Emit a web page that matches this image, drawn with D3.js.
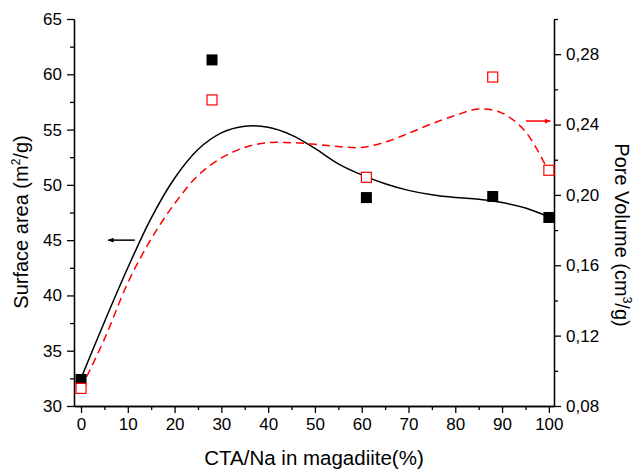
<!DOCTYPE html>
<html>
<head>
<meta charset="utf-8">
<script src="https://cdn.jsdelivr.net/npm/d3@7"></script>
<style>
body { margin: 0; background: #fff; }
svg text { font-family: "Liberation Sans", Arial, sans-serif; }
.axis path, .axis line { stroke: #000; stroke-width: 1.3; }
.axis text { font-size: 17px; fill: #000; }
</style>
</head>
<body>
<svg width="635" height="470"></svg>
<script>
// measured points
var ctaNa = [0, 28, 61, 88, 100];
var surfaceArea = [32.4, 61.3, 48.85, 48.95, 47.05];
var poreVolume = [0.090, 0.254, 0.210, 0.267, 0.214];

// fitted curves
var saFitX = [0, 5, 10, 15, 20, 25, 30, 35, 40, 45, 50, 55, 60, 65, 70, 75, 80, 85, 90, 95, 100];
var saFitY = [32.5, 37.6, 42.5, 47.0, 50.6, 53.2, 54.7, 55.3, 55.2, 54.5, 53.3, 51.9, 50.9, 50.1, 49.5, 49.1, 48.85, 48.7, 48.4, 47.9, 47.1];
var pvFitX = [0, 5, 10, 15, 20, 25, 30, 35, 40, 45, 50, 55, 60, 65, 70, 75, 80, 85, 90, 95, 100];
var pvFitY = [0.090, 0.118, 0.150, 0.175, 0.195, 0.211, 0.221, 0.227, 0.2297, 0.2297, 0.2288, 0.2275, 0.227, 0.230, 0.235, 0.2405, 0.2452, 0.2488, 0.2465, 0.236, 0.213];

var xTicks = [0, 10, 20, 30, 40, 50, 60, 70, 80, 90, 100];
var leftTicks = [30, 35, 40, 45, 50, 55, 60, 65];
var rightTicks = [0.08, 0.12, 0.16, 0.20, 0.24, 0.28];

// arrows pointing to the axis each curve belongs to
var saArrow = [[11.5, 45], [5.8, 45]];
var pvArrow = [[95.1, 0.242], [100.3, 0.242]];

var svg = d3.select("svg");

var x = d3.scaleLinear().domain([-1.5, 101.1]).range([74, 554]);
var yL = d3.scaleLinear().domain([30, 65]).range([406, 19]);
var yR = d3.scaleLinear().domain([0.08, 0.30]).range([406, 19]);

var comma = function(d) { return d3.format(".2f")(d).replace(".", ","); };

// minor ticks
svg.append("g").attr("class", "axis").attr("transform", "translate(0,406)")
  .call(d3.axisBottom(x).tickValues(d3.range(5, 100, 10)).tickSize(4).tickSizeOuter(0).tickFormat(""));
svg.append("g").attr("class", "axis").attr("transform", "translate(74,0)")
  .call(d3.axisLeft(yL).tickValues(d3.range(32.5, 65, 5)).tickSize(4).tickSizeOuter(0).tickFormat(""));
svg.append("g").attr("class", "axis").attr("transform", "translate(554,0)")
  .call(d3.axisRight(yR).tickValues([0.10, 0.14, 0.18, 0.22, 0.26, 0.30]).tickSize(4).tickSizeOuter(0).tickFormat(""));

// major ticks
svg.append("g").attr("class", "axis").attr("transform", "translate(0,406)")
  .call(d3.axisBottom(x).tickValues(xTicks).tickSize(7).tickSizeOuter(0).tickPadding(5));
svg.append("g").attr("class", "axis").attr("transform", "translate(74,0)")
  .call(d3.axisLeft(yL).tickValues(leftTicks).tickSize(7).tickSizeOuter(0).tickPadding(5));
svg.append("g").attr("class", "axis").attr("transform", "translate(554,0)")
  .call(d3.axisRight(yR).tickValues(rightTicks).tickSize(7).tickSizeOuter(0).tickPadding(5).tickFormat(comma));

// curves
var saLine = d3.line().curve(d3.curveCatmullRom)
  .x(function(d, i) { return x(saFitX[i]); })
  .y(function(d) { return yL(d); });
var pvLine = d3.line().curve(d3.curveCatmullRom)
  .x(function(d, i) { return x(pvFitX[i]); })
  .y(function(d) { return yR(d); });

svg.append("path").datum(saFitY).attr("d", saLine)
  .attr("fill", "none").attr("stroke", "#000").attr("stroke-width", 1.5);
svg.append("path").datum(pvFitY).attr("d", pvLine)
  .attr("fill", "none").attr("stroke", "#ff0000").attr("stroke-width", 1.5)
  .attr("stroke-dasharray", "8,5");

// markers
var s = 11;
svg.selectAll(".sa").data(surfaceArea).enter().append("rect")
  .attr("class", "sa")
  .attr("x", function(d, i) { return x(ctaNa[i]) - s / 2; })
  .attr("y", function(d) { return yL(d) - s / 2; })
  .attr("width", s).attr("height", s).attr("fill", "#000");
svg.selectAll(".pv").data(poreVolume).enter().append("rect")
  .attr("class", "pv")
  .attr("x", function(d, i) { return x(ctaNa[i]) - s / 2 + 0.5; })
  .attr("y", function(d) { return yR(d) - s / 2 + 0.5; })
  .attr("width", s - 1).attr("height", s - 1)
  .attr("fill", "#fff").attr("stroke", "#ff0000").attr("stroke-width", 1.2);

// arrows
var defs = svg.append("defs");
[["ahBlack", "#000"], ["ahRed", "#ff0000"]].forEach(function(m) {
  defs.append("marker").attr("id", m[0])
    .attr("viewBox", "0 0 10 10").attr("refX", 9).attr("refY", 5)
    .attr("markerWidth", 7).attr("markerHeight", 6).attr("orient", "auto")
    .attr("markerUnits", "userSpaceOnUse")
    .append("path").attr("d", "M0,1L10,5L0,9Z").attr("fill", m[1]);
});
svg.append("line")
  .attr("x1", x(saArrow[0][0])).attr("y1", yL(saArrow[0][1]))
  .attr("x2", x(saArrow[1][0])).attr("y2", yL(saArrow[1][1]))
  .attr("stroke", "#000").attr("stroke-width", 1.5).attr("marker-end", "url(#ahBlack)");
svg.append("line")
  .attr("x1", x(pvArrow[0][0])).attr("y1", yR(pvArrow[0][1]))
  .attr("x2", x(pvArrow[1][0])).attr("y2", yR(pvArrow[1][1]))
  .attr("stroke", "#ff0000").attr("stroke-width", 1.5).attr("marker-end", "url(#ahRed)");

// axis titles
svg.append("text")
  .attr("x", 314).attr("y", 465).attr("text-anchor", "middle")
  .attr("font-size", 20.5).text("CTA/Na in magadiite(%)");

var lt = svg.append("text")
  .attr("transform", "translate(28,222) rotate(-90)")
  .attr("text-anchor", "middle").attr("font-size", 20);
lt.append("tspan").text("Surface area (m");
lt.append("tspan").attr("font-size", 12).attr("dy", -8).text("2");
lt.append("tspan").attr("dy", 8).text("/g)");

var rt = svg.append("text")
  .attr("transform", "translate(615,235) rotate(90)")
  .attr("text-anchor", "middle").attr("font-size", 20);
rt.append("tspan").text("Pore Volume (cm");
rt.append("tspan").attr("font-size", 12).attr("dy", -8).text("3");
rt.append("tspan").attr("dy", 8).text("/g)");
</script>
</body>
</html>
